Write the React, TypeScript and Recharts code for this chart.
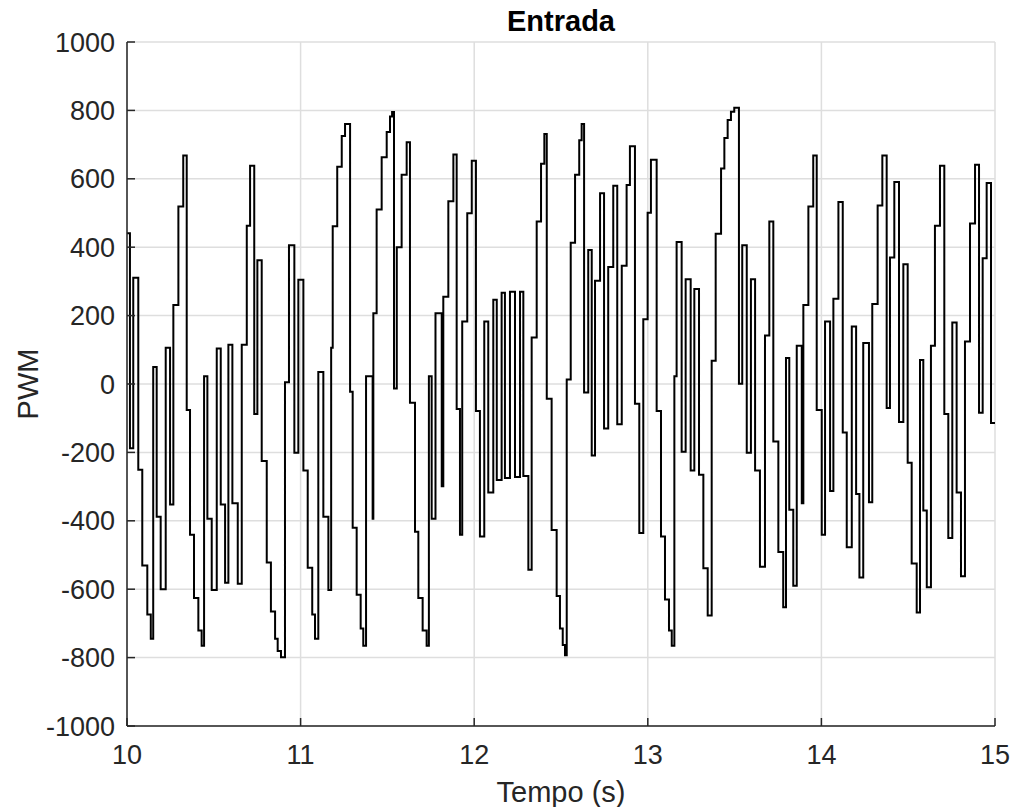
import { CartesianGrid, Line, LineChart, XAxis, YAxis } from 'recharts';

// tiempo (s) donde cambia el escalon
const time = [
  10.0, 10.017, 10.036, 10.065, 10.088, 10.117, 10.137, 10.151, 10.171, 10.194,
  10.223, 10.248, 10.267, 10.296, 10.324, 10.344, 10.363, 10.386, 10.411, 10.43,
  10.444, 10.463, 10.488, 10.517, 10.54, 10.565, 10.584, 10.607, 10.638, 10.661,
  10.69, 10.709, 10.733, 10.751, 10.776, 10.805, 10.829, 10.853, 10.868, 10.887,
  10.91, 10.933, 10.964, 10.987, 11.016, 11.041, 11.067, 11.083, 11.102, 11.131,
  11.16, 11.176, 11.185, 11.211, 11.237, 11.256, 11.285, 11.3, 11.323, 11.346,
  11.361, 11.377, 11.415, 11.419, 11.438, 11.467, 11.496, 11.515, 11.527, 11.538,
  11.554, 11.582, 11.611, 11.63, 11.659, 11.678, 11.703, 11.726, 11.739, 11.755,
  11.777, 11.813, 11.822, 11.851, 11.88, 11.899, 11.918, 11.931, 11.96, 11.986,
  12.01, 12.033, 12.058, 12.081, 12.11, 12.13, 12.158, 12.177, 12.206, 12.235,
  12.264, 12.283, 12.312, 12.331, 12.36, 12.385, 12.404, 12.418, 12.446, 12.475,
  12.494, 12.51, 12.523, 12.533, 12.556, 12.581, 12.605, 12.619, 12.633, 12.657,
  12.677, 12.696, 12.725, 12.748, 12.772, 12.801, 12.824, 12.85, 12.878, 12.897,
  12.926, 12.951, 12.974, 12.999, 13.018, 13.051, 13.076, 13.099, 13.122, 13.138,
  13.153, 13.166, 13.195, 13.218, 13.247, 13.268, 13.295, 13.32, 13.345, 13.368,
  13.391, 13.422, 13.441, 13.46, 13.479, 13.498, 13.525, 13.544, 13.57, 13.594,
  13.618, 13.646, 13.675, 13.7, 13.723, 13.752, 13.78, 13.796, 13.815, 13.838,
  13.858, 13.887, 13.896, 13.925, 13.953, 13.973, 14.002, 14.021, 14.05, 14.069,
  14.098, 14.123, 14.146, 14.175, 14.2, 14.219, 14.241, 14.274, 14.293, 14.324,
  14.351, 14.376, 14.395, 14.42, 14.447, 14.472, 14.497, 14.52, 14.549, 14.568,
  14.587, 14.607, 14.631, 14.654, 14.683, 14.708, 14.731, 14.754, 14.779, 14.804,
  14.827, 14.856, 14.885, 14.908, 14.929, 14.952, 14.977, 15.0,
];

// valor PWM en cada escalon
const pwm = [
  441, -188, 311, -251, -531, -674, -745, 50, -388, -600,
  106, -352, 231, 519, 668, -76, -441, -626, -721, -765,
  23, -394, -602, 104, -352, -581, 115, -349, -584, 115,
  463, 638, -88, 362, -225, -522, -665, -745, -781, -799,
  5, 406, -201, 305, -253, -537, -674, -745, 35, -388,
  -602, 106, 461, 635, 725, 760, -23, -420, -616, -715,
  -765, 23, -394, 207, 510, 663, 737, 782, 795, -13,
  400, 612, 707, -55, -432, -626, -721, -765, 23, -394,
  207, -299, 255, 534, 671, -73, -441, 183, 499, 653,
  -79, -446, 183, -317, 246, -281, 267, -275, 270, -272,
  270, -269, -543, 136, 475, 644, 731, -43, -427, -620,
  -715, -763, -793, 13, 413, 612, 713, 760, -25, 392,
  -209, 302, 558, -130, 342, 580, -118, 346, 582, 695,
  -58, -436, 189, 501, 656, -79, -446, -630, -721, -765,
  23, 415, -198, 306, -253, 278, -265, -539, -677, 68,
  439, 630, 719, 772, 796, 808, 1, 406, -201, 306,
  -253, -534, 142, 475, -168, -491, -653, 76, -368, -590,
  112, -349, 231, 519, 668, -76, -441, 183, -313, 249,
  532, -142, -477, 168, -322, -566, 120, -346, 234, 522,
  668, -70, 370, 591, -111, 350, -230, -525, -668, 70,
  -370, -594, 112, 463, 638, -88, -450, 180, -317, -562,
  124, 469, 641, -84, 368, 588, -114, -114,
];

const xTicks = [10, 11, 12, 13, 14, 15];
const yTicks = [-1000, -800, -600, -400, -200, 0, 200, 400, 600, 800, 1000];

const data = time.map((t, i) => ({ t, v: pwm[i] }));

const font = 'Liberation Sans, Arial, Helvetica, sans-serif';
const tickStyle = { fontFamily: font, fontSize: 27, fill: '#262626' };
const tickLine = { stroke: '#262626', strokeWidth: 1.5 };

export default function App() {
  return (
    <div style={{ position: 'relative', width: 1012, height: 807 }}>
      <style>{'body { margin: 0; overflow: hidden; }'}</style>
      <LineChart
        width={1012}
        height={807}
        data={data}
        margin={{ top: 42, right: 17, left: 0, bottom: 0 }}
      >
        <CartesianGrid stroke='#dedede' strokeWidth={1.5} />
        <XAxis
          dataKey='t'
          type='number'
          domain={[10, 15]}
          ticks={xTicks}
          allowDataOverflow
          height={81}
          stroke='#262626'
          strokeWidth={1.5}
          tick={tickStyle}
          tickLine={tickLine}
          tickSize={-8}
          tickMargin={27}
        />
        <YAxis
          type='number'
          domain={[-1000, 1000]}
          ticks={yTicks}
          allowDataOverflow
          width={127}
          stroke='#262626'
          strokeWidth={1.5}
          tick={tickStyle}
          tickLine={tickLine}
          tickSize={-8}
          tickMargin={20}
        />
        <Line
          dataKey='v'
          type='stepAfter'
          stroke='#000'
          strokeWidth={2}
          dot={false}
          isAnimationActive={false}
        />
      </LineChart>
      <svg
        width={1012}
        height={807}
        style={{ position: 'absolute', left: 0, top: 0, pointerEvents: 'none' }}
      >
        <text x={561} y={31} textAnchor='middle' fontFamily={font} fontSize={29} fontWeight='bold' fill='#000'>
          Entrada
        </text>
        <text x={561} y={802} textAnchor='middle' fontFamily={font} fontSize={29} fill='#262626'>
          Tempo (s)
        </text>
        <text x={38} y={384} textAnchor='middle' fontFamily={font} fontSize={29} fill='#262626' transform='rotate(-90 38 384)'>
          PWM
        </text>
      </svg>
    </div>
  );
}
